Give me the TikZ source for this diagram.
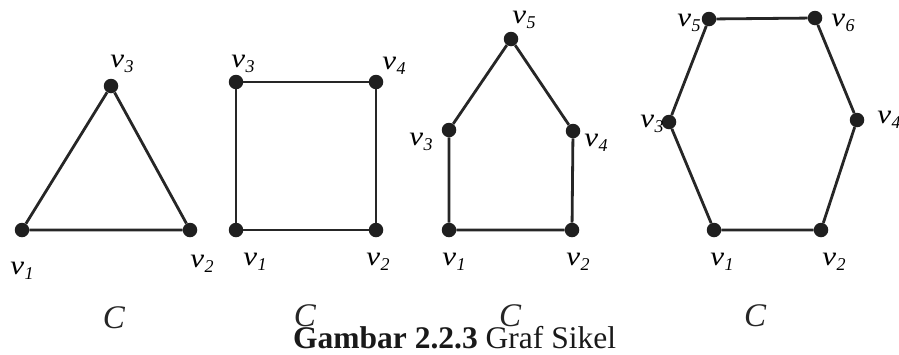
\documentclass[tikz,border=0pt]{standalone}
\usepackage{fontspec}
\setmainfont{Liberation Serif}
\newcommand{\vlab}[1]{\scalebox{1.15}[1]{\textit{v}}\kern0.3pt\raisebox{-0.4ex}{\fontsize{18}{19}\selectfont\textit{#1}}}
\begin{document}
\begin{tikzpicture}[x=1pt,y=-1pt,
  vtx/.style={circle,fill=black!88,inner sep=0pt,minimum size=14.5pt},
  edge/.style={line width=2.8pt,draw=black!85},
  vl/.style={font=\fontsize{27}{29}\selectfont,inner sep=0pt,anchor=center},
  cl/.style={font=\fontsize{33}{35}\selectfont\itshape,inner sep=0pt,anchor=center,text=black!85}]
\useasboundingbox (0,0) rectangle (899,354);
% Triangle
\node[vtx] (a1) at (22,230) {};
\node[vtx] (a2) at (190,230) {};
\node[vtx] (a3) at (111,86) {};
\draw[edge] (a1) -- (a2) -- (a3) -- (a1);
\node[vl] (la3) at (122,64) {\vlab{3}};
\node[vl] (la1) at (22,271) {\vlab{1}};
\node[vl] (la2) at (202,264) {\vlab{2}};
\node[cl] (ca) at (114,318) {C};
% Square
\node[vtx] (b1) at (236,230) {};
\node[vtx] (b2) at (376,230) {};
\node[vtx] (b3) at (236,82) {};
\node[vtx] (b4) at (376,82) {};
\draw[edge] (b1) -- (b2) -- (b4) -- (b3) -- (b1);
\node[vl] (lb3) at (243,64) {\vlab{3}};
\node[vl] (lb4) at (394,66) {\vlab{4}};
\node[vl] (lb1) at (255,262) {\vlab{1}};
\node[vl] (lb2) at (378,262) {\vlab{2}};
\node[cl] (cb) at (305,316) {C};
% House
\node[vtx] (c1) at (449,230) {};
\node[vtx] (c2) at (572,230) {};
\node[vtx] (c3) at (449,130) {};
\node[vtx] (c4) at (573,131) {};
\node[vtx] (c5) at (511,39) {};
\draw[edge] (c1) -- (c2) -- (c4) -- (c5) -- (c3) -- (c1);
\node[vl] (lc5) at (524,20) {\vlab{5}};
\node[vl] (lc3) at (421,142) {\vlab{3}};
\node[vl] (lc4) at (596,143) {\vlab{4}};
\node[vl] (lc1) at (454,262) {\vlab{1}};
\node[vl] (lc2) at (578,262) {\vlab{2}};
\node[cl] (cc) at (510,316) {C};
% Hexagon
\node[vtx] (d1) at (714,230) {};
\node[vtx] (d2) at (821,230) {};
\node[vtx] (d3) at (669,122) {};
\node[vtx] (d4) at (857,120) {};
\node[vtx] (d5) at (709,19) {};
\node[vtx] (d6) at (815,18) {};
\draw[edge] (d1) -- (d2) -- (d4) -- (d6) -- (d5) -- (d3) -- (d1);
\node[vl] (ld5) at (689,23) {\vlab{5}};
\node[vl] (ld6) at (843,23) {\vlab{6}};
\node[vl] (ld3) at (652,124) {\vlab{3}};
\node[vl] (ld4) at (889,120) {\vlab{4}};
\node[vl] (ld1) at (722,262) {\vlab{1}};
\node[vl] (ld2) at (834,262) {\vlab{2}};
\node[cl] (cd) at (755,316) {C};
% Caption
\node[font=\fontsize{31.5}{33}\selectfont,inner sep=0pt,anchor=base west,text=black!90] (cap) at (293,348) {\textbf{Gambar 2.2.3} Graf Sikel};
\end{tikzpicture}
\end{document}
